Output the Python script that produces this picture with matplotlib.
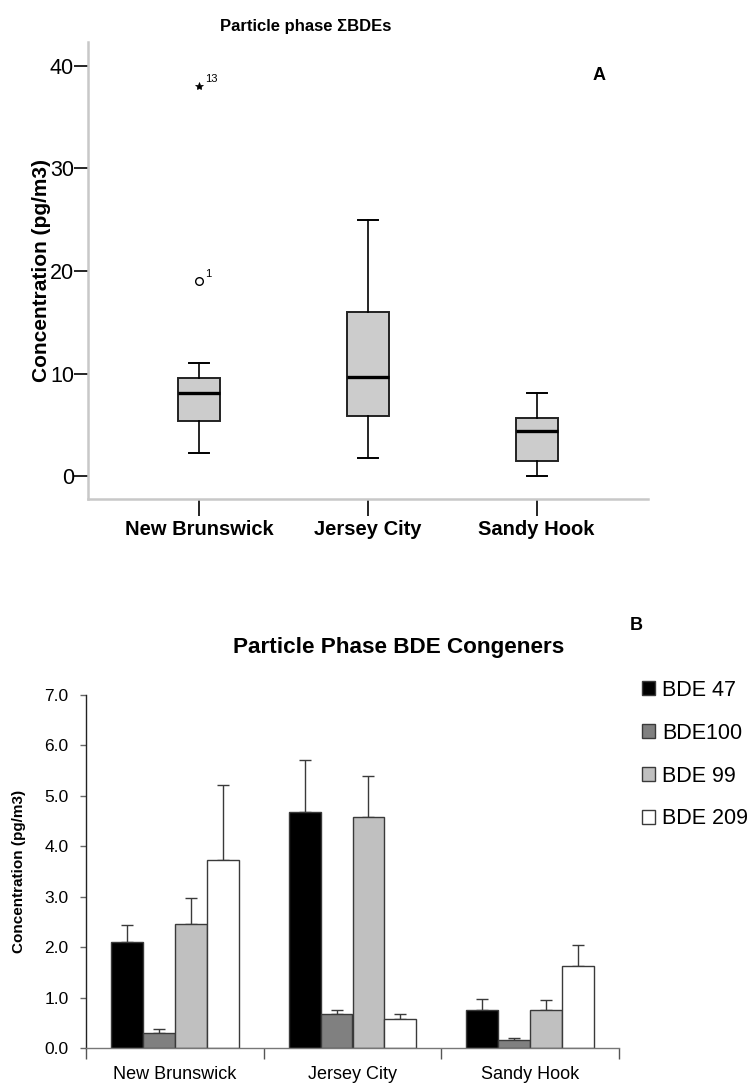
import matplotlib
matplotlib.use("Agg")
import matplotlib.pyplot as plt

# ---- data -------------------------------------------------------------
sites = ["New Brunswick", "Jersey City", "Sandy Hook"]

# Panel A: box-plot summary of total particle-phase BDEs (pg/m3)
whisker_low = [2.3, 1.8, 0.0]
q1 = [5.4, 5.9, 1.5]
median = [8.1, 9.7, 4.4]
q3 = [9.6, 16.0, 5.7]
whisker_high = [11.0, 25.0, 8.1]
outlier_values = [19.0, 38.0]
outlier_sites = [0, 0]
outlier_ids = ["1", "13"]
outlier_kind = ["o", "*"]

# Panel B: congener means and upper error bars (pg/m3)
congeners = ["BDE 47", "BDE100", "BDE 99", "BDE 209"]
bde47 = [2.10, 4.67, 0.75]
bde100 = [0.29, 0.67, 0.15]
bde99 = [2.45, 4.58, 0.76]
bde209 = [3.72, 0.57, 1.62]
bde47_err = [0.33, 1.05, 0.23]
bde100_err = [0.09, 0.09, 0.04]
bde99_err = [0.53, 0.81, 0.20]
bde209_err = [1.50, 0.10, 0.43]
b_ticks = [0.0, 1.0, 2.0, 3.0, 4.0, 5.0, 6.0, 7.0]
a_ticks = [0, 10, 20, 30, 40]

plt.rcParams["font.family"] = ["Liberation Sans", "DejaVu Sans"]

W, H = 756, 1087
fig = plt.figure(figsize=(W / 100, H / 100), dpi=100)


def box(l, t, r, b):
    return [l / W, 1 - b / H, (r - l) / W, (b - t) / H]


# ---- Panel A ------------------------------------------------------------
axA = fig.add_axes(box(88, 42, 648, 499))
stats = []
for i in range(len(sites)):
    stats.append(dict(whislo=whisker_low[i], q1=q1[i], med=median[i],
                      q3=q3[i], whishi=whisker_high[i], fliers=[]))
axA.bxp(stats, positions=range(len(sites)), widths=0.25, patch_artist=True,
        showfliers=False,
        boxprops=dict(facecolor="#cccccc", edgecolor="#222222", linewidth=1.4),
        medianprops=dict(color="black", linewidth=2.4),
        whiskerprops=dict(color="black", linewidth=1.2),
        capprops=dict(color="black", linewidth=1.4),
        capwidths=0.12)
for v, s, k, lab in zip(outlier_values, outlier_sites, outlier_kind, outlier_ids):
    if k == "o":
        axA.plot(s, v, "o", mfc="white", mec="black", ms=5.5, mew=1)
    else:
        axA.plot(s, v, "*", color="black", ms=6, mew=0.5)
    axA.annotate(lab, (s, v), xytext=(4, 3), textcoords="offset points",
                 fontsize=8)

axA.set_xlim(-0.66, 2.66)
axA.set_ylim(-2.2, 42.3)
axA.set_yticks(a_ticks)
axA.set_yticklabels([str(t) for t in a_ticks], fontsize=15.5)
axA.set_xticks(range(len(sites)))
axA.set_xticklabels(sites, fontsize=14.5, fontweight="bold")
for sp in ("top", "right"):
    axA.spines[sp].set_visible(False)
for sp in ("left", "bottom"):
    axA.spines[sp].set_color("#c8c8c8")
    axA.spines[sp].set_linewidth(1.8)
axA.tick_params(axis="y", length=10, width=1.2, color="black", pad=0)
axA.tick_params(axis="x", length=12, width=1.2, color="black", pad=3)
axA.set_ylabel("Concentration (pg/m3)", fontsize=15, fontweight="bold")
axA.yaxis.set_label_coords(-0.066, 0.5)
fig.text(306 / W, 1 - 27 / H, "Particle phase ΣBDEs", ha="center", va="center",
         fontsize=12, fontweight="bold")
fig.text(599 / W, 1 - 75 / H, "A", ha="center", va="center",
         fontsize=13, fontweight="bold")

# ---- Panel B ------------------------------------------------------------
axB = fig.add_axes(box(86, 695, 619, 1048))
series = [bde47, bde100, bde99, bde209]
errs = [bde47_err, bde100_err, bde99_err, bde209_err]
colors = ["black", "#808080", "#c0c0c0", "white"]
bw = 0.18
x = range(len(sites))
handles = []
for j, (vals, e, c) in enumerate(zip(series, errs, colors)):
    xs = [i + (j - 1.5) * bw for i in x]
    bars = axB.bar(xs, vals, width=bw, color=c, edgecolor="#3a3a3a",
                   linewidth=1.0, zorder=2)
    axB.errorbar(xs, vals, yerr=[[0] * len(vals), e], fmt="none",
                 ecolor="#3a3a3a", elinewidth=1.0, capsize=4, capthick=1.0,
                 zorder=1)
    handles.append(bars)

axB.set_xlim(-0.5, 2.5)
axB.set_ylim(0, 7.0)
axB.set_yticks(b_ticks)
axB.set_yticklabels([f"{t:.1f}" for t in b_ticks], fontsize=12.5)
axB.set_xticks(list(x))
axB.set_xticklabels(sites, fontsize=13)
axB.set_xticks([-0.5, 0.5, 1.5, 2.5], minor=True)
axB.tick_params(axis="x", which="major", length=0, pad=13)
axB.tick_params(axis="x", which="minor", length=8, width=1, color="#555555")
axB.tick_params(axis="y", length=4.5, width=1, color="#666666", pad=8)
for sp in ("top", "right"):
    axB.spines[sp].set_visible(False)
axB.spines["left"].set_color("#222222")
axB.spines["bottom"].set_color("#777777")
for sp in ("left", "bottom"):
    axB.spines[sp].set_linewidth(1.0)
axB.set_ylabel("Concentration (pg/m3)", fontsize=11, fontweight="bold")
axB.yaxis.set_label_coords(-0.1126, 0.5)
fig.text(399 / W, 1 - 648 / H, "Particle Phase BDE Congeners", ha="center",
         va="center", fontsize=16.2, fontweight="bold")
fig.text(630 / W, 1 - 626 / H, "B", ha="left", va="center",
         fontsize=13, fontweight="bold")
fig.legend(handles, congeners, loc="upper left",
           bbox_to_anchor=(633 / W, 1 - 671 / H), frameon=False, fontsize=15.5,
           handlelength=0.6, handleheight=0.6, handletextpad=0.35,
           labelspacing=1.02, borderaxespad=0)

fig.savefig("out.png", dpi=100)
